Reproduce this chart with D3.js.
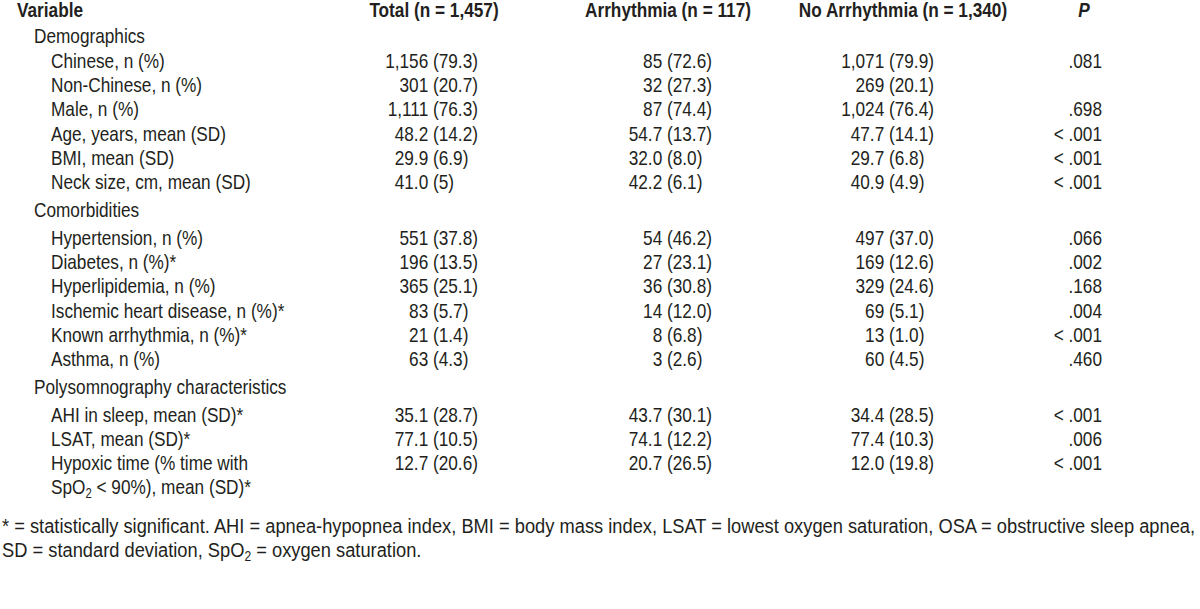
<!DOCTYPE html>
<html><head><meta charset="utf-8">
<script src="https://cdn.jsdelivr.net/npm/d3@7"></script>
<style>body{margin:0;background:#fff}svg{display:block}</style>
</head><body>
<svg id="c" width="1200" height="609"></svg>
<script>
// ---------- data ----------
const headers = ["Variable", "Total (n = 1,457)", "Arrhythmia (n = 117)", "No Arrhythmia (n = 1,340)", "P"];
const sections = ["Demographics", "Comorbidities", "Polysomnography characteristics"];
const rowSection = [0,0,0,0,0,0, 1,1,1,1,1,1, 2,2,2];
const rowLabels = [
  ["Chinese, n (%)"], ["Non-Chinese, n (%)"], ["Male, n (%)"], ["Age, years, mean (SD)"],
  ["BMI, mean (SD)"], ["Neck size, cm, mean (SD)"],
  ["Hypertension, n (%)"], ["Diabetes, n (%)*"], ["Hyperlipidemia, n (%)"],
  ["Ischemic heart disease, n (%)*"], ["Known arrhythmia, n (%)*"], ["Asthma, n (%)"],
  ["AHI in sleep, mean (SD)*"], ["LSAT, mean (SD)*"],
  ["Hypoxic time (% time with", "SpO₂ < 90%), mean (SD)*"]
];
const totalVals = ["1,156 (79.3)","301 (20.7)","1,111 (76.3)","48.2 (14.2)","29.9 (6.9)","41.0 (5)",
  "551 (37.8)","196 (13.5)","365 (25.1)","83 (5.7)","21 (1.4)","63 (4.3)",
  "35.1 (28.7)","77.1 (10.5)","12.7 (20.6)"];
const arrVals = ["85 (72.6)","32 (27.3)","87 (74.4)","54.7 (13.7)","32.0 (8.0)","42.2 (6.1)",
  "54 (46.2)","27 (23.1)","36 (30.8)","14 (12.0)","8 (6.8)","3 (2.6)",
  "43.7 (30.1)","74.1 (12.2)","20.7 (26.5)"];
const noArrVals = ["1,071 (79.9)","269 (20.1)","1,024 (76.4)","47.7 (14.1)","29.7 (6.8)","40.9 (4.9)",
  "497 (37.0)","169 (12.6)","329 (24.6)","69 (5.1)","13 (1.0)","60 (4.5)",
  "34.4 (28.5)","77.4 (10.3)","12.0 (19.8)"];
const pVals = [".081","",".698","< .001","< .001","< .001",
  ".066",".002",".168",".004","< .001",".460",
  "< .001",".006","< .001"];
const footnote = [
  "* = statistically significant. AHI = apnea-hypopnea index, BMI = body mass index, LSAT = lowest oxygen saturation, OSA = obstructive sleep apnea,",
  "SD = standard deviation, SpO₂ = oxygen saturation."
];

// ---------- layout ----------
const svg = d3.select("#c");
const FS = 21;
const COLOR = "#231f20";

// font detection: prefer a real narrow face, otherwise condense Liberation Sans
const probe = svg.append("text").attr("font-size", FS).attr("font-family", "'Liberation Sans Narrow'").text("Chinese, n (%)");
const wN = probe.node().getComputedTextLength();
probe.attr("font-family", "'Liberation Sans'");
const wR = probe.node().getComputedTextLength();
probe.remove();
const narrow = wN < wR * 0.9;
const FAMILY = narrow ? "'Liberation Sans Narrow', 'Arial Narrow'" : "'Liberation Sans', Arial, sans-serif";
const SX = narrow ? 1 : 0.82;

const g = svg.append("g").attr("font-family", FAMILY).attr("font-size", FS).attr("fill", COLOR);

function addText(x, y, str, anchor, opts = {}) {
  const sx = SX * (opts.stretch || 1);
  const t = g.append("text")
    .attr("transform", `translate(${x},${y}) scale(${sx},1)`)
    .attr("text-anchor", anchor || "start");
  if (opts.bold) t.attr("font-weight", "bold");
  if (opts.italic) t.attr("font-style", "italic");
  const parts = str.split("₂");
  parts.forEach((p, i) => {
    if (p) t.append("tspan").attr("dy", i > 0 ? -4 : null).text(p);
    if (i < parts.length - 1) {
      t.append("tspan").attr("font-size", FS * 0.66).attr("dy", 4).text("2");
    }
  });
  return t;
}

// columns (x positions of the paren anchor for value columns)
const colHeaderX = d3.scaleOrdinal().domain(headers).range([17, 434, 668, 903, 1084]);
const parenX = d3.scaleOrdinal().domain(["total","arr","noarr"]).range([433, 667, 889]);
const pRight = 1102;
const xSection = 34, xLabel = 51;

// rows
const headerY = 17;
const sectionY = d3.scaleOrdinal().domain(sections).range([43, 217, 394]);
const rowYScales = [
  d3.scaleLinear().domain([0, 5]).range([68, 189]),
  d3.scaleLinear().domain([6, 11]).range([245, 366]),
  d3.scaleLinear().domain([12, 14]).range([422, 470])
];
const rowY = i => rowYScales[rowSection[i]](i);
const lineGap = 24;

// header
headers.forEach((h, i) => {
  addText(colHeaderX(h), headerY, h, i === 0 ? "start" : "middle", {bold: true, italic: i === 4});
});

// sections
sections.forEach(s => addText(xSection, sectionY(s), s, "start"));

// rows
function valueCell(key, v, y) {
  if (!v) return;
  const k = v.indexOf(" (");
  const px = parenX(key);
  if (k < 0) { addText(px, y, v, "end"); return; }
  addText(px - FS * 0.278 * SX, y, v.slice(0, k), "end");
  addText(px, y, v.slice(k + 1), "start");
}

rowLabels.forEach((lines, i) => {
  const y = rowY(i);
  lines.forEach((ln, j) => addText(xLabel, y + j * lineGap, ln, "start"));
  valueCell("total", totalVals[i], y);
  valueCell("arr", arrVals[i], y);
  valueCell("noarr", noArrVals[i], y);
  if (pVals[i]) addText(pRight, y, pVals[i], "end");
});

// footnote
const footY = d3.scaleLinear().domain([0, 1]).range([533, 557]);
footnote.forEach((f, i) => addText(2, footY(i), f, "start", {stretch: 1.062}));
</script>
</body></html>
